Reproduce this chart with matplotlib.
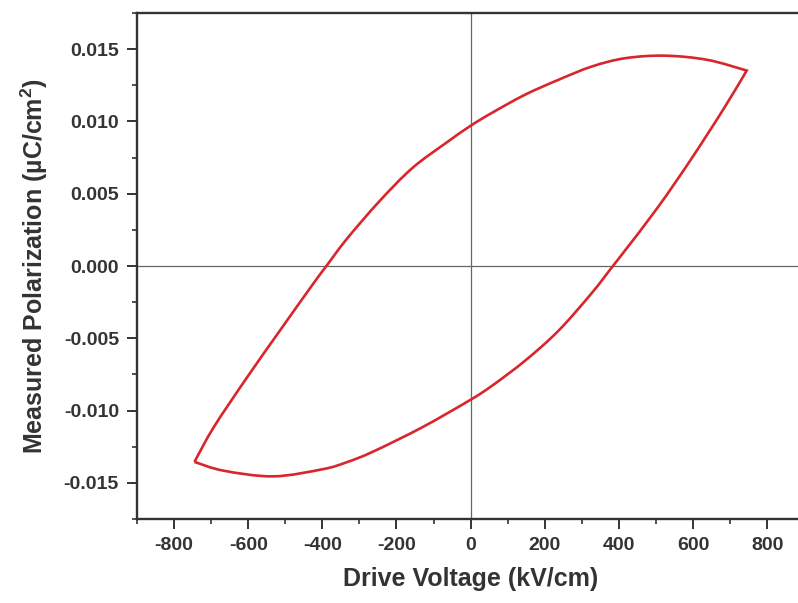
# P-E hysteresis loop

import numpy as np
import matplotlib
matplotlib.use('Agg')
import matplotlib.pyplot as plt
from matplotlib.ticker import MultipleLocator
from matplotlib.path import Path
from matplotlib.patches import PathPatch

plt.rcParams['font.family'] = ['Liberation Sans', 'DejaVu Sans']
plt.rcParams['font.weight'] = 'bold'
plt.rcParams['axes.unicode_minus'] = False
plt.rcParams['mathtext.fontset'] = 'custom'
plt.rcParams['mathtext.bf'] = 'Liberation Sans:bold'
plt.rcParams['mathtext.rm'] = 'Liberation Sans:bold'

# Data
# rising branch, from the negative tip to the positive tip
upV = [-745, -693, -603, -514, -425, -389, -335, -246, -157, -67, 0, 58, 147, 237,
       326, 416, 523, 639, 745]
upP = [-0.01355, -0.01115, -0.00770, -0.00445, -0.00124, 0.0, 0.00184, 0.00448, 0.00678,
       0.00850, 0.00970, 0.01060, 0.01185, 0.01288, 0.01379, 0.01437, 0.01455, 0.01426,
       0.01352]
# falling branch, from the positive tip back to the negative tip
dnV = [745, 684, 594, 505, 416, 384, 326, 237, 147, 58, 0, -130, -264, -335, -398,
       -532, -666, -745]
dnP = [0.01352, 0.01092, 0.00735, 0.00405, 0.00105, 0.0, -0.00190, -0.00448, -0.00655,
       -0.00828, -0.00925, -0.01115, -0.01285, -0.01358, -0.01405, -0.01455, -0.01416,
       -0.01355]


def smooth_path(xs, ys):
    # bezier through the points (catmull-rom tangents), ends kept sharp
    p = np.column_stack([xs, ys]).astype(float)
    verts = [p[0]]
    codes = [Path.MOVETO]
    n = len(p)
    for i in range(n - 1):
        p0 = p[i - 1] if i > 0 else p[i]
        p3 = p[i + 2] if i + 2 < n else p[i + 1]
        c1 = p[i] + (p[i + 1] - p0) / 6
        c2 = p[i + 1] - (p3 - p[i]) / 6
        verts += [c1, c2, p[i + 1]]
        codes += [Path.CURVE4] * 3
    return verts, codes


fig = plt.figure(figsize=(7.98, 6.03), dpi=100)
ax = fig.add_axes([0.1717, 0.1393, 0.836, 0.8391])

ax.axhline(0, color='#666666', lw=0.9, zorder=1)
ax.axvline(0, color='#666666', lw=0.9, zorder=1)

v1, c1 = smooth_path(upV, upP)
v2, c2 = smooth_path(dnV, dnP)
c2[0] = Path.LINETO
loop = Path(v1 + v2, c1 + c2)
ax.add_patch(PathPatch(loop, facecolor='none', edgecolor='#d8262c', lw=1.9,
                       joinstyle='miter', zorder=3))

ax.set_xlim(-900, 900)
ax.set_ylim(-0.0175, 0.0175)
ax.xaxis.set_major_locator(MultipleLocator(200))
ax.xaxis.set_minor_locator(MultipleLocator(100))
ax.yaxis.set_major_locator(MultipleLocator(0.005))
ax.yaxis.set_minor_locator(MultipleLocator(0.0025))
ax.yaxis.set_major_formatter(plt.FormatStrFormatter('%.3f'))

for s in ax.spines.values():
    s.set_linewidth(1.7)
    s.set_color('#333333')
ax.tick_params(which='major', direction='out', length=7, width=1.4, color='#333333',
               labelsize=14, labelcolor='#333333', pad=6)
ax.tick_params(which='minor', direction='out', length=3.5, width=1.2, color='#333333')

ax.set_xlabel('Drive Voltage (kV/cm)', fontsize=18, fontweight='bold', color='#333333', labelpad=9)
ax.set_ylabel(r'Measured Polarization (µC/cm$^{\mathbf{2}}$)', fontsize=18,
              fontweight='bold', color='#333333', labelpad=10)

fig.savefig('out.png', dpi=100)
